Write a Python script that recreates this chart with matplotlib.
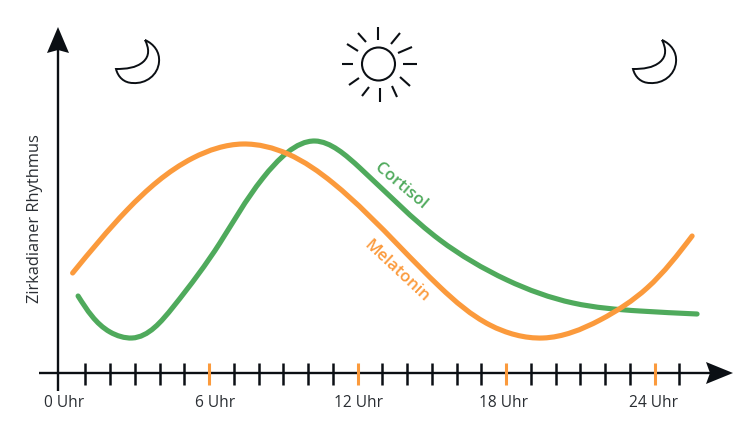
import matplotlib
matplotlib.use('Agg')

import matplotlib.pyplot as plt
import numpy as np
from matplotlib.patches import Circle, PathPatch, Polygon
from matplotlib.path import Path
from matplotlib.transforms import Affine2D

# data: x in hours, y = height above the time axis
cortisol_hours = [0.71, 2.00, 2.89, 4.55, 6.44, 8.18, 10.28, 12.10, 15.33, 18.04, 20.71, 23.41, 25.72]
cortisol_values = [77, 41, 35, 66, 130, 195, 232, 205, 133, 93, 70, 62, 59]
melatonin_hours = [0.49, 2.69, 5.35, 7.37, 9.19, 11.01, 13.72, 15.33, 17.35, 19.49, 21.80, 23.70, 25.52]
melatonin_values = [100, 163, 215, 229, 219, 190, 126, 86, 48, 35, 53, 85, 137]
tick_hours = list(range(1, 26))
major_hours = [6, 12, 18, 24]
tick_labels = ['0 Uhr', '6 Uhr', '12 Uhr', '18 Uhr', '24 Uhr']
tick_label_hours = [0.15, 6.25, 12.05, 17.9, 23.95]

BLACK = '#0b0f14'
GREEN = '#4faa5c'
ORANGE = '#fb9a3c'
TEXT = '#2a2e33'

plt.rcParams['font.family'] = ['Open Sans', 'DejaVu Sans']

W, H = 750, 438
fig = plt.figure(figsize=(W / 100, H / 100), dpi=100)
ax = fig.add_axes([0, 0, 1, 1])
# hour h sits at pixel 60.5 + 24.75 h, height 0 at pixel row 373
ax.set_xlim(-60.5 / 24.75, (W - 60.5) / 24.75)
ax.set_ylim(373 - H, 373)
ax.axis('off')

# top-left pixel coordinates for the decoration
px = Affine2D().scale(1, -1).translate(0, H)


def smooth_path(xs, ys):
    # natural cubic spline through the read points, chord length as parameter, as bezier segments
    pts = np.column_stack([xs, ys])
    d = np.hypot(*((pts[1:] - pts[:-1]) * [24.75, 1.0]).T)
    slope = (pts[1:] - pts[:-1]) / d[:, None]
    n = len(pts)
    A = np.zeros((n, n))
    b = np.zeros((n, 2))
    A[0, :2] = 2, 1
    b[0] = 3 * slope[0]
    A[-1, -2:] = 1, 2
    b[-1] = 3 * slope[-1]
    for i in range(1, n - 1):
        A[i, i - 1:i + 2] = d[i], 2 * (d[i - 1] + d[i]), d[i - 1]
        b[i] = 3 * (d[i] * slope[i - 1] + d[i - 1] * slope[i])
    tan = np.linalg.solve(A, b)
    verts = [pts[0]]
    codes = [Path.MOVETO]
    for i in range(n - 1):
        verts += [pts[i] + tan[i] * d[i] / 3, pts[i + 1] - tan[i + 1] * d[i] / 3, pts[i + 1]]
        codes += [Path.CURVE4] * 3
    return Path(verts, codes)


ax.add_patch(PathPatch(smooth_path(cortisol_hours, cortisol_values), fc='none', ec=GREEN, lw=3.7, capstyle='round', zorder=3))
ax.add_patch(PathPatch(smooth_path(melatonin_hours, melatonin_values), fc='none', ec=ORANGE, lw=3.7, capstyle='round', zorder=4))

# axes
ax.plot([39, 712], [373, 373], color=BLACK, lw=1.7, transform=px, solid_capstyle='butt')
ax.plot([58, 58], [45, 391], color=BLACK, lw=1.7, transform=px, solid_capstyle='butt')
ax.add_patch(Polygon([(733, 373), (706, 362), (710, 373), (706, 384)], fc=BLACK, ec='none', transform=px, zorder=5))
ax.add_patch(Polygon([(58, 27), (47, 53), (58, 50), (69, 53)], fc=BLACK, ec='none', transform=px, zorder=5))

for h in tick_hours:
    major = h in major_hours
    ax.plot([h, h], [-12, 10], color=ORANGE if major else BLACK, lw=2.2 if major else 1.8,
            solid_capstyle='butt', zorder=6 if major else 2)

for h, s in zip(tick_label_hours, tick_labels):
    ax.text(h, -30, s, ha='center', va='center', fontsize=11.2, color=TEXT)

ax.text(35, 219, 'Zirkadianer Rhythmus', rotation=90, ha='center', va='center', fontsize=11.8, color=TEXT, transform=px)
ax.text(401, 186, 'Cortisol', rotation=-40, rotation_mode='anchor', ha='center', va='center', fontsize=12.2,
        fontweight='semibold', color=GREEN, transform=px)
ax.text(396, 271, 'Melatonin', rotation=-43, rotation_mode='anchor', ha='center', va='center', fontsize=12.2,
        fontweight='semibold', color=ORANGE, transform=px)


def moon(dx):
    verts = [(145, 40), (154, 44), (160, 52), (159, 62), (158, 75), (146, 84), (133, 83),
             (124, 83), (118, 77), (116, 69), (126, 69), (136, 68), (143, 62), (150, 56), (149, 48), (145, 40)]
    codes = [Path.MOVETO] + [Path.CURVE4] * 15
    ax.add_patch(PathPatch(Path([(x + dx, y) for x, y in verts], codes), fc='white', ec=BLACK, lw=1.4,
                           joinstyle='miter', transform=px))


moon(0)
moon(517)

# sun
ax.add_patch(Circle((378.5, 64), 16.5, fc='none', ec=BLACK, lw=1.5, transform=px))
rays = [(378, 27, 378, 40), (358, 33, 366, 42), (347, 44, 358, 51), (342, 64, 353, 64), (349, 85, 359, 78),
        (362, 96, 369, 87), (380, 88, 380, 102), (392, 86, 397, 97), (400, 77, 410, 86), (403, 64, 417, 64),
        (398, 53, 412, 47), (391, 44, 400, 33)]
for x0, y0, x1, y1 in rays:
    ax.plot([x0, x1], [y0, y1], color=BLACK, lw=1.5, transform=px, solid_capstyle='butt')

fig.savefig('out.png', dpi=100)
